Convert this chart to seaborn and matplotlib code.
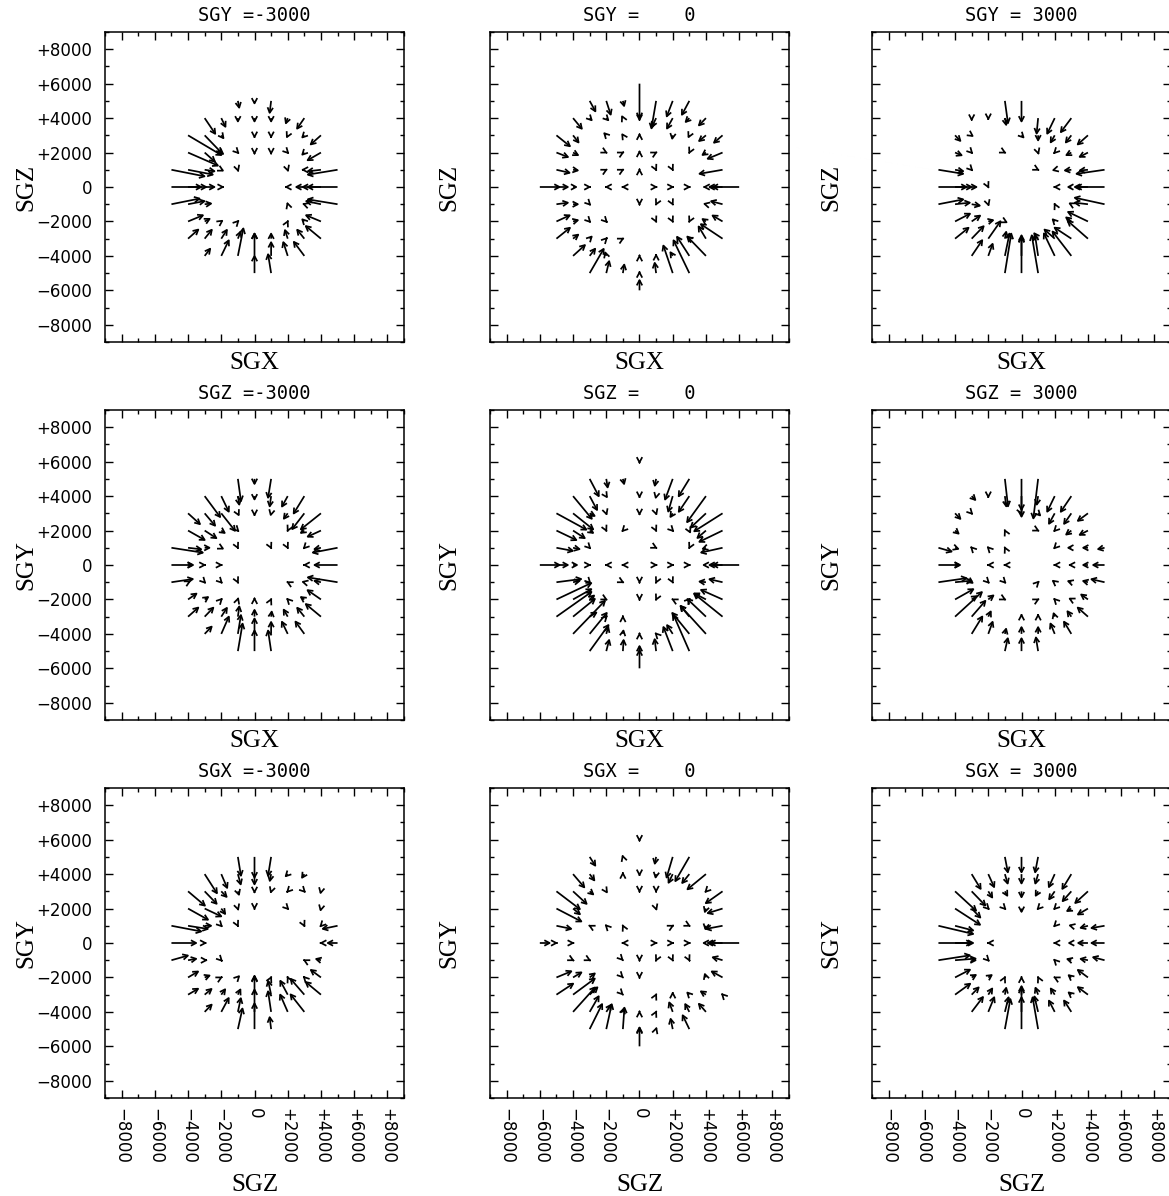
import matplotlib
matplotlib.use("Agg")
import matplotlib.pyplot as plt
from matplotlib.ticker import MultipleLocator, FuncFormatter
import pandas as pd
import seaborn as sns

# Velocity field sampled on a 1000 km/s grid: (x, y, u, v), all in units of 1000 km/s.
# x, y are the grid position of the arrow tail, u, v the vector components.
SGY_M3000 = [
    (-1, 5, 0.1, -0.5), (0, 5, 0, -0.25), (1, 5, -0.1, -0.8),
    (-3, 4, 0.7, -1.0), (-2, 4, 0.3, -0.6), (-1, 4, 0, -0.3), (0, 4, 0, -0.3), (1, 4, 0, -0.3),
    (2, 4, -0.15, -0.4), (3, 4, -0.5, -0.7),
    (-4, 3, 2.1, -1.2), (-3, 3, 1.1, -1.1), (-2, 3, 0.2, -0.25), (0, 3, 0, -0.2), (1, 3, 0, -0.2),
    (2, 3, -0.1, -0.2), (3, 3, -0.2, -0.2), (4, 3, -0.7, -0.6),
    (-4, 2, 1.9, -0.8), (-3, 2, 0.7, -0.6), (-2, 2, 0.2, -0.15), (-1, 2, 0.1, -0.1), (0, 2, 0, -0.15),
    (1, 2, 0, -0.15), (2, 2, 0.1, -0.1), (3, 2, -0.2, -0.2), (4, 2, -0.9, -0.5),
    (-5, 1, 2.1, -0.4), (-4, 1, 1.6, -0.3), (-3, 1, 0.7, -0.1), (-2, 1, 0.2, -0.1), (-1, 1, 0.05, -0.15),
    (2, 1, 0.05, -0.15), (3, 1, -0.2, 0), (4, 1, -0.9, -0.1), (5, 1, -1.9, -0.3),
    (-5, 0, 1.9, 0), (-4, 0, 1.2, 0), (-3, 0, 0.7, 0), (-2, 0, 0.2, 0),
    (2, 0, -0.2, 0), (3, 0, -0.6, 0), (4, 0, -1.2, 0), (5, 0, -1.9, 0),
    (-5, -1, 1.8, 0.35), (-4, -1, 1.1, 0.2), (-3, -1, 0.5, 0.05), (2, -1, -0.05, 0.15),
    (3, -1, -0.15, 0.05), (4, -1, -1.0, 0.2), (5, -1, -1.9, 0.3),
    (-4, -2, 1.0, 0.4), (-3, -2, 0.4, 0.2), (-2, -2, 0.15, 0.1), (-1, -2, 0.1, 0.1),
    (2, -2, 0.05, 0.1), (3, -2, -0.2, 0.2), (4, -2, -1.0, 0.4),
    (-4, -3, 0.7, 0.6), (-3, -3, 0.5, 0.6), (-2, -3, 0.4, 0.6), (-1, -3, 0.2, 0.5), (0, -3, 0, 0.4),
    (1, -3, 0, 0.4), (2, -3, -0.2, 0.6), (3, -3, -0.5, 0.6), (4, -3, -1.0, 0.8),
    (-3, -4, 0.4, 0.5), (-2, -4, 0.5, 1.0), (-1, -4, 0.35, 1.7), (0, -4, 0, 1.4), (1, -4, 0, 0.9),
    (2, -4, -0.3, 0.9), (3, -4, -0.7, 0.9),
    (0, -5, 0, 1.1), (1, -5, -0.2, 1.2),
]

SGY_0 = [
    (0, 6, 0, -2.1),
    (-3, 5, 0.4, -0.7), (-2, 5, 0.3, -0.9), (-1, 5, 0.1, -0.4), (1, 5, -0.3, -1.7), (2, 5, -0.4, -1.0),
    (3, 5, -0.5, -0.9),
    (-4, 4, 0.6, -0.7), (-3, 4, 0.2, -0.2), (-2, 4, 0.2, -0.2), (-1, 4, -0.1, 0.2), (0, 4, 0, -0.2),
    (1, 4, -0.3, -0.6), (2, 4, -0.4, -0.7), (3, 4, -0.3, -0.3), (4, 4, -0.5, -0.5),
    (-5, 3, 0.9, -0.7), (-4, 3, 0.4, -0.5), (-2, 3, -0.2, 0.2), (-1, 3, -0.1, 0.15), (0, 3, 0, 0.15),
    (2, 3, -0.05, -0.3), (3, 3, -0.1, -0.2), (4, 3, -0.5, -0.4), (5, 3, -0.6, -0.5),
    (-5, 2, 0.8, -0.3), (-4, 2, 0.4, -0.2), (-2, 2, 0.1, -0.05), (-1, 2, 0.1, 0.05), (0, 2, 0, 0.15),
    (1, 2, 0.1, 0.05), (3, 2, -0.05, -0.1), (4, 2, -0.3, -0.2), (5, 2, -1.0, -0.4),
    (-5, 1, 0.9, -0.2), (-4, 1, 0.4, -0.05), (-2, 1, 0.1, 0.05), (-1, 1, 0.1, 0.05), (0, 1, 0, 0.1),
    (1, 1, 0.05, -0.1), (2, 1, 0.05, -0.1), (5, 1, -1.5, -0.25),
    (-6, 0, 1.3, 0), (-5, 0, 0.8, 0), (-4, 0, 0.3, 0), (-3, 0, 0.1, 0), (-2, 0, -0.1, 0), (-1, 0, -0.1, 0),
    (1, 0, 0.1, 0), (2, 0, 0.1, 0), (3, 0, 0.1, 0), (4, 0, -0.2, 0), (5, 0, -0.9, 0), (6, 0, -1.7, 0),
    (-5, -1, 0.8, 0.1), (-4, -1, 0.4, 0.0), (-3, -1, 0.1, -0.1), (0, -1, 0, -0.1), (1, -1, -0.05, -0.1),
    (2, -1, 0.05, -0.1), (4, -1, -0.2, 0.05), (5, -1, -0.8, 0.2),
    (-5, -2, 0.9, 0.4), (-4, -2, 0.4, 0.1), (-3, -2, 0.1, -0.1), (-2, -2, 0.1, -0.1), (1, -2, 0.05, -0.1),
    (2, -2, 0.05, -0.1), (3, -2, -0.05, -0.1), (4, -2, -0.3, 0.2), (5, -2, -0.7, 0.4),
    (-5, -3, 0.9, 0.7), (-4, -3, 0.4, 0.3), (-3, -3, 0.2, 0.2), (-2, -3, 0.1, 0.1), (-1, -3, 0.1, 0.05),
    (3, -3, -0.2, 0.1), (4, -3, -0.5, 0.8), (5, -3, -1.4, 0.9),
    (-4, -4, 0.8, 0.7), (-3, -4, 0.4, 0.5), (-2, -4, -0.1, 0.3), (0, -4, 0, 0.1), (1, -4, 0, 0.15),
    (2, -4, -0.2, 0.3), (3, -4, -0.8, 1.2), (4, -4, -1.2, 1.2),
    (-3, -5, 0.9, 1.5), (-2, -5, 0.2, 0.8), (-1, -5, 0.1, 0.6), (0, -5, 0, 0.15), (1, -5, -0.1, 0.7),
    (2, -5, -0.6, 1.7), (3, -5, -1.0, 2.0),
    (0, -6, 0, 0.7),
]

SGY_P3000 = [
    (-1, 5, 0.2, -1.4), (0, 5, 0, -1.3),
    (-3, 4, 0, -0.2), (-2, 4, 0, -0.15), (-1, 4, 0.1, -0.5), (1, 4, -0.1, -1.0), (2, 4, -0.5, -1.0),
    (3, 4, -0.7, -0.9),
    (-4, 3, 0.4, -0.4), (-3, 3, 0.15, -0.1), (0, 3, 0.2, -0.2), (1, 3, 0, -0.4), (2, 3, -0.3, -0.5),
    (3, 3, -0.4, -0.5), (4, 3, -0.7, -0.6),
    (-4, 2, 0.5, -0.2), (-3, 2, 0.1, -0.1), (-1, 2, 0.1, -0.05), (1, 2, 0.05, -0.15), (2, 2, -0.1, -0.1),
    (3, 2, -0.4, -0.2), (4, 2, -0.6, -0.3),
    (-5, 1, 1.6, -0.25), (-4, 1, 0.6, -0.1), (-3, 1, 0.1, -0.1), (1, 1, 0.1, -0.05), (2, 1, -0.2, -0.05),
    (3, 1, -0.5, -0.05), (4, 1, -0.6, -0.05), (5, 1, -1.8, -0.25),
    (-5, 0, 1.8, 0), (-4, 0, 1.1, 0), (-3, 0, 0.4, 0), (-2, 0, 0.05, -0.1),
    (2, 0, -0.1, 0), (3, 0, -0.3, 0), (4, 0, -0.9, 0), (5, 0, -1.8, 0),
    (-5, -1, 1.6, 0.3), (-4, -1, 1.0, 0.1), (-3, -1, 0.6, -0.1), (-2, -1, 0.05, -0.15),
    (2, -1, -0.05, 0.1), (3, -1, -0.2, 0.1), (4, -1, -0.9, 0.1), (5, -1, -1.9, 0.4),
    (-4, -2, 1.0, 0.5), (-3, -2, 0.6, 0.4), (-2, -2, 0.4, 0.1), (-1, -2, 0.2, -0.1),
    (2, -2, -0.2, 0.2), (3, -2, -0.4, 0.3), (4, -2, -1.3, 0.6),
    (-4, -3, 0.9, 0.7), (-3, -3, 0.8, 0.8), (-2, -3, 0.8, 1.1), (-1, -3, 0.1, 0.5), (0, -3, 0, 0.3),
    (1, -3, -0.3, 0.4), (2, -3, -0.7, 0.6), (3, -3, -1.1, 0.7), (4, -3, -1.3, 1.1),
    (-3, -4, 0.7, 1.0), (-2, -4, 0.3, 0.8), (-1, -4, 0.3, 1.4), (0, -4, 0, 1.2), (1, -4, -0.2, 1.3),
    (2, -4, -0.7, 1.4), (3, -4, -1.2, 1.5),
    (-1, -5, 0.4, 2.4), (0, -5, 0, 2.2), (1, -5, -0.4, 2.3),
]

SGZ_M3000 = [
    (-1, 5, 0.2, -1.4), (0, 5, 0, -0.4), (1, 5, -0.2, -1.2),
    (-3, 4, 1.0, -1.3), (-2, 4, 0.5, -1.0), (-1, 4, 0.1, -0.6), (0, 4, 0, -0.3), (1, 4, -0.1, -0.7),
    (2, 4, -0.4, -0.7), (3, 4, -0.7, -1.1),
    (-4, 3, 0.8, -0.7), (-3, 3, 0.7, -0.8), (-2, 3, 0.9, -1.1), (-1, 3, 0.1, -0.2), (0, 3, 0, -0.2),
    (1, 3, -0.05, -0.2), (2, 3, -0.3, -0.4), (3, 3, -0.8, -1.0), (4, 3, -1.3, -1.0),
    (-4, 2, 1.1, -0.6), (-3, 2, 0.8, -0.5), (-2, 2, 0.3, -0.2), (-1, 2, 0.1, -0.1), (2, 2, -0.05, -0.1),
    (3, 2, -0.3, -0.2), (4, 2, -0.9, -0.4),
    (-5, 1, 2.0, -0.3), (-4, 1, 0.9, -0.1), (-3, 1, 0.4, 0), (-2, 1, 0.2, -0.1), (-1, 1, 0.05, -0.1),
    (1, 1, 0.05, -0.1), (2, 1, 0.05, -0.1), (3, 1, -0.1, -0.1), (4, 1, -0.5, -0.1), (5, 1, -1.6, -0.3),
    (-5, 0, 1.4, 0), (-4, 0, 0.4, 0), (-3, 0, 0.1, 0), (-2, 0, 0.1, 0), (3, 0, -0.1, 0), (5, 0, -1.5, 0),
    (-5, -1, 1.4, 0.2), (-4, -1, 0.2, 0.1), (-3, -1, 0.1, -0.1), (-2, -1, 0.1, -0.1), (-1, -1, 0.05, -0.1),
    (2, -1, -0.1, 0.05), (3, -1, -0.2, 0.05), (4, -1, -0.5, 0.1), (5, -1, -1.9, 0.3),
    (-4, -2, 0.6, 0.4), (-3, -2, 0.3, 0.2), (-2, -2, 0.1, 0.1), (-1, -2, 0.05, 0.15), (0, -2, 0, 0.15),
    (1, -2, 0.05, 0.1), (2, -2, -0.1, 0.1), (3, -2, -0.3, 0.2), (4, -2, -0.9, 0.6),
    (-4, -3, 0.7, 0.6), (-3, -3, 0.6, 0.6), (-2, -3, 0.4, 0.6), (-1, -3, 0.1, 0.7), (0, -3, 0, 0.5),
    (1, -3, 0.05, 0.4), (2, -3, -0.3, 0.5), (3, -3, -0.5, 0.6), (4, -3, -1.0, 0.8),
    (-3, -4, 0.5, 0.5), (-2, -4, 0.5, 1.1), (-1, -4, 0.2, 1.2), (0, -4, 0, 1.0), (1, -4, 0, 0.8),
    (2, -4, -0.4, 0.8), (3, -4, -0.6, 0.8),
    (-1, -5, 0.3, 1.7), (0, -5, 0, 1.3), (1, -5, -0.2, 1.3),
]

SGZ_0 = [
    (0, 6, 0, -0.15),
    (-3, 5, 0.6, -1.1), (-2, 5, 0.1, -0.6), (-1, 5, 0.1, -0.4), (1, 5, -0.1, -0.5), (2, 5, -0.5, -1.3),
    (3, 5, -0.7, -1.1),
    (-4, 4, 1.2, -1.4), (-3, 4, 0.5, -0.9), (-2, 4, 0.1, -0.15), (0, 4, 0, -0.15), (1, 4, -0.05, -0.2),
    (2, 4, -0.3, -1.0), (3, 4, -0.7, -1.0), (4, 4, -1.2, -1.6),
    (-5, 3, 1.9, -1.0), (-4, 3, 1.3, -1.0), (-3, 3, 0.4, -0.2), (-2, 3, 0.05, -0.15), (0, 3, 0, -0.15),
    (1, 3, 0.05, -0.15), (2, 3, -0.2, -0.3), (4, 3, -1.0, -0.9), (5, 3, -1.8, -1.1),
    (-5, 2, 1.3, -0.6), (-4, 2, 0.8, -0.5), (-3, 2, 0.3, -0.2), (-2, 2, 0.05, -0.1), (-1, 2, -0.1, -0.1),
    (1, 2, 0.05, -0.1), (2, 2, 0.1, -0.1), (3, 2, 0.1, -0.2), (4, 2, -0.6, -0.5), (5, 2, -1.5, -0.7),
    (-5, 1, 1.1, -0.2), (-4, 1, 0.5, -0.1), (-3, 1, 0.1, -0.1), (1, 1, 0.1, -0.05), (3, 1, -0.05, -0.1),
    (4, 1, -0.3, -0.1), (5, 1, -1.4, -0.3),
    (-6, 0, 1.3, 0), (-5, 0, 0.8, 0), (-4, 0, 0.35, 0), (-3, 0, 0.1, 0), (-2, 0, -0.1, 0), (-1, 0, -0.1, 0),
    (1, 0, 0.1, 0), (2, 0, 0.1, 0), (3, 0, 0.1, 0), (4, 0, -0.25, 0), (5, 0, -0.9, 0), (6, 0, -1.7, 0),
    (-5, -1, 1.6, 0.2), (-4, -1, 0.5, 0.1), (-3, -1, 0.1, -0.1), (-1, -1, 0.1, -0.05), (0, -1, 0, -0.1),
    (1, -1, -0.05, -0.1), (2, -1, 0.05, -0.1), (4, -1, -0.5, 0.05), (5, -1, -0.9, 0.2),
    (-5, -2, 2.2, 1.0), (-4, -2, 1.2, 0.65), (-3, -2, 0.35, 0.3), (-2, -2, 0.1, -0.05), (0, -2, 0, -0.1),
    (1, -2, -0.05, -0.1), (2, -2, -0.1, 0.05), (3, -2, 0.1, 0.1), (4, -2, -0.8, 0.4), (5, -2, -1.4, 0.6),
    (-5, -3, 2.2, 1.5), (-4, -3, 1.4, 1.1), (-3, -3, 0.5, 0.3), (-2, -3, 0.1, 0.1), (-1, -3, 0, 0.1),
    (3, -3, -0.6, 0.7), (4, -3, -1.2, 1.1), (5, -3, -1.8, 1.4),
    (-4, -4, 2.0, 2.0), (-3, -4, 1.1, 1.3), (-2, -4, 0.15, 0.5), (-1, -4, 0.05, 0.3), (0, -4, 0, 0.1),
    (1, -4, -0.1, 0.1), (2, -4, -0.4, 0.6), (3, -4, -1.1, 1.3), (4, -4, -1.6, 1.7),
    (-3, -5, 1.2, 1.6), (-2, -5, 0.2, 0.75), (-1, -5, 0.05, 0.75), (0, -5, 0, 0.15), (1, -5, -0.1, 0.8),
    (2, -5, -0.6, 1.5), (3, -5, -1.0, 2.2),
    (0, -6, 0, 1.4),
]

SGZ_P3000 = [
    (-1, 5, 0.2, -1.7), (0, 5, 0, -2.3), (1, 5, -0.3, -2.4),
    (-3, 4, 0.3, -0.3), (-2, 4, 0, -0.15), (-1, 4, 0.1, -0.7), (0, 4, 0, -0.9), (1, 4, -0.1, -0.6),
    (2, 4, -0.5, -1.0), (3, 4, -0.7, -1.0),
    (-4, 3, 0.4, -0.4), (-3, 3, 0.1, -0.1), (0, 3, 0.05, -0.1), (1, 3, 0.2, -0.2), (2, 3, -0.4, -0.7),
    (3, 3, -0.5, -0.7), (4, 3, -0.7, -0.5),
    (-4, 2, 0.3, -0.25), (-1, 2, -0.05, 0.1), (1, 2, 0.1, -0.05), (2, 2, -0.1, -0.1), (3, 2, -0.4, -0.3),
    (4, 2, -0.6, -0.3),
    (-5, 1, 0.9, -0.25), (-4, 1, 0.3, -0.1), (-3, 1, -0.1, 0.1), (-2, 1, -0.1, 0.1), (-1, 1, -0.05, 0.1),
    (2, 1, -0.1, -0.1), (3, 1, -0.3, 0), (4, 1, -0.4, 0), (5, 1, -0.5, -0.1),
    (-5, 0, 1.4, 0), (-4, 0, 0.4, 0), (-2, 0, -0.1, 0), (-1, 0, -0.1, 0),
    (2, 0, -0.1, 0), (3, 0, -0.2, 0), (4, 0, -0.4, 0), (5, 0, -0.8, 0),
    (-5, -1, 1.8, 0.25), (-4, -1, 1.1, 0.1), (-3, -1, 0.15, -0.1), (-2, -1, 0.1, -0.1), (-1, -1, 0.1, -0.1),
    (1, -1, 0.1, 0.1), (2, -1, -0.2, 0.15), (3, -1, -0.3, 0.1), (4, -1, -0.4, 0.1), (5, -1, -0.9, 0.2),
    (-4, -2, 1.2, 0.65), (-3, -2, 0.4, 0.25), (-2, -2, 0.4, 0.3), (-1, -2, 0.1, -0.05), (1, -2, 0.1, 0.05),
    (2, -2, -0.1, 0.1), (3, -2, -0.2, 0.1), (4, -2, -0.5, 0.35),
    (-4, -3, 1.7, 1.5), (-3, -3, 0.9, 1.0), (-2, -3, 0.2, 0.4), (0, -3, 0, 0.2), (1, -3, 0, 0.2),
    (2, -3, -0.1, 0.3), (3, -3, -0.3, 0.4), (4, -3, -0.7, 0.6),
    (-3, -4, 0.7, 1.1), (-2, -4, 0.3, 0.8), (-1, -4, 0.1, 0.4), (0, -4, 0, 0.5), (1, -4, 0, 0.5),
    (2, -4, -0.3, 0.7), (3, -4, -0.5, 0.8),
    (-1, -5, 0.2, 0.85), (0, -5, 0, 0.85), (1, -5, -0.15, 0.9),
]

SGX_M3000 = [
    (-1, 5, 0.2, -1.2), (0, 5, 0, -1.3), (1, 5, -0.2, -1.2),
    (-3, 4, 0.8, -1.2), (-2, 4, 0.4, -0.9), (-1, 4, 0.2, -0.7), (0, 4, 0, -0.7), (1, 4, -0.1, -0.5),
    (2, 4, -0.2, -0.2), (3, 4, -0.2, -0.3),
    (-4, 3, 1.1, -0.9), (-3, 3, 0.8, -0.8), (-2, 3, 0.4, -0.4), (-1, 3, 0.1, -0.3), (0, 3, 0, -0.15),
    (1, 3, -0.05, -0.15), (2, 3, -0.1, -0.1), (3, 3, 0.1, -0.1), (4, 3, -0.05, -0.2),
    (-4, 2, 1.3, -0.7), (-3, 2, 1.1, -0.5), (-2, 2, 0.3, -0.4), (-1, 2, 0.05, -0.15), (0, 2, 0, -0.1),
    (2, 2, 0.1, -0.1), (4, 2, -0.05, -0.2),
    (-5, 1, 1.9, -0.35), (-4, 1, 1.3, -0.2), (-3, 1, 0.5, 0), (-2, 1, 0.1, -0.1), (-1, 1, 0.05, -0.1),
    (3, 1, 0.05, -0.1), (4, 1, -0.1, -0.1), (5, 1, -1.0, -0.2),
    (-5, 0, 1.6, 0), (-3, 0, 0.15, 0), (4, 0, -0.1, 0), (5, 0, -0.7, 0),
    (-5, -1, 1.1, 0.3), (-4, -1, 0.6, 0.1), (-3, -1, 0.2, 0), (-2, -1, 0.1, -0.1), (3, -1, -0.1, 0.05),
    (4, -1, -0.4, 0.1),
    (-4, -2, 0.7, 0.4), (-3, -2, 0.4, 0.15), (-2, -2, 0.1, 0.05), (-1, -2, 0.15, 0.15), (0, -2, 0, 0.15),
    (1, -2, 0.05, 0.1), (2, -2, -0.05, 0.1), (3, -2, -0.1, 0.1), (4, -2, -0.7, 0.5),
    (-4, -3, 0.7, 0.4), (-3, -3, 0.5, 0.4), (-2, -3, 0.3, 0.4), (-1, -3, 0.2, 0.4), (0, -3, 0, 1.2),
    (1, -3, -0.2, 0.9), (2, -3, -0.5, 0.9), (3, -3, -0.9, 1.0), (4, -3, -1.0, 0.8),
    (-3, -4, 0.5, 0.5), (-2, -4, 0.5, 0.9), (-1, -4, 0.2, 0.9), (0, -4, 0, 1.4), (1, -4, -0.2, 1.3),
    (2, -4, -0.5, 1.1), (3, -4, -0.9, 1.1),
    (-1, -5, 0.3, 1.3), (0, -5, 0, 1.6), (1, -5, -0.1, 0.8),
]

SGX_0 = [
    (0, 6, 0, -0.15),
    (-3, 5, 0.4, -0.6), (-1, 5, -0.05, 0.15), (1, 5, -0.1, -0.5), (2, 5, -0.4, -1.3), (3, 5, -0.9, -1.5),
    (-4, 4, 0.75, -0.85), (-3, 4, 0.35, -0.45), (-1, 4, 0, 0.15), (0, 4, 0, -0.15), (1, 4, -0.05, -0.3),
    (2, 4, -0.3, -0.6), (3, 4, -0.5, -0.6), (4, 4, -1.2, -0.95),
    (-5, 3, 1.5, -1.1), (-4, 3, 0.9, -0.8), (-3, 3, 0.3, -0.25), (-2, 3, 0.1, -0.15), (0, 3, 0, -0.1),
    (1, 3, 0, -0.1), (4, 3, -0.1, -0.1), (5, 3, -1.1, -0.75),
    (-5, 2, 1.6, -0.8), (-4, 2, 0.5, -0.4), (1, 2, 0.05, -0.15), (4, 2, -0.1, -0.3), (5, 2, -1.0, -0.3),
    (-5, 1, 1.0, -0.2), (-3, 1, -0.1, 0.05), (-2, 1, -0.1, 0.1), (-1, 1, -0.05, 0.1), (2, 1, 0.1, 0.05),
    (3, 1, 0.1, -0.05), (4, 1, -0.05, -0.3), (5, 1, -1.1, -0.2),
    (-6, 0, 0.7, 0), (-5, 0, 0.1, 0), (-4, 0, 0.1, 0), (-1, 0, -0.1, 0), (1, 0, 0.1, 0), (2, 0, 0.1, 0),
    (3, 0, 0.1, 0), (4, 0, -0.25, 0), (5, 0, -1.0, 0), (6, 0, -1.85, 0),
    (-4, -1, 0.1, -0.05), (-3, -1, 0.1, -0.05), (-1, -1, 0.05, -0.05), (0, -1, 0, -0.1),
    (1, -1, -0.05, -0.1), (2, -1, 0.05, -0.1), (3, -1, 0.05, -0.1), (5, -1, -0.7, 0.2),
    (-5, -2, 1.0, 0.4), (-4, -2, 0.6, 0.35), (-3, -2, 0.4, 0.3), (-1, -2, 0.05, -0.05), (0, -2, 0, -0.1),
    (4, -2, -0.1, 0.3), (5, -2, -0.75, 0.4),
    (-5, -3, 1.1, 0.7), (-4, -3, 1.4, 1.0), (-3, -3, 0.55, 0.5), (-1, -3, 0.05, -0.05), (1, -3, 0.05, 0.1),
    (2, -3, 0, 0.2), (3, -3, -0.2, 0.2), (4, -3, -0.4, 0.25), (5, -3, -0.1, 0.1),
    (-4, -4, 1.4, 1.5), (-3, -4, 0.6, 1.0), (-2, -4, 0.35, 0.5), (-1, -4, 0.1, 0.3), (0, -4, 0, 0.1),
    (1, -4, 0.05, 0.1), (2, -4, -0.25, 0.65), (3, -4, -0.3, 0.55), (4, -4, -0.5, 0.55),
    (-3, -5, 0.8, 1.55), (-2, -5, 0.35, 1.55), (-1, -5, 0.1, 1.35), (0, -5, 0, 0.15), (1, -5, 0.05, 0.15),
    (2, -5, -0.15, 0.7), (3, -5, -0.45, 0.9),
    (0, -6, 0, 1.2),
]

SGX_P3000 = [
    (-1, 5, 0.2, -1.0), (0, 5, 0, -1.0), (1, 5, -0.2, -1.0),
    (-3, 4, 0.6, -0.95), (-2, 4, 0.4, -0.85), (-1, 4, 0.2, -0.65), (0, 4, 0, -0.65), (1, 4, -0.2, -0.65),
    (2, 4, -0.4, -0.85), (3, 4, -0.6, -0.95),
    (-4, 3, 1.35, -1.2), (-3, 3, 0.9, -0.9), (-2, 3, 0.3, -0.45), (-1, 3, 0.2, -0.35), (0, 3, 0, -0.45),
    (1, 3, -0.2, -0.35), (2, 3, -0.4, -0.55), (3, 3, -0.6, -0.65), (4, 3, -0.85, -0.75),
    (-4, 2, 1.6, -1.0), (-3, 2, 0.6, -0.6), (-2, 2, 0.1, -0.1), (-1, 2, 0.1, -0.1), (0, 2, 0, -0.3),
    (1, 2, -0.1, -0.1), (2, 2, -0.1, -0.1), (3, 2, -0.35, -0.2), (4, 2, -0.7, -0.4),
    (-5, 1, 2.2, -0.5), (-4, 1, 1.2, -0.3), (2, 1, -0.1, -0.1), (3, 1, -0.2, 0.05), (4, 1, -0.55, -0.15),
    (5, 1, -0.9, -0.15),
    (-5, 0, 2.1, 0), (-4, 0, 1.2, 0), (-2, 0, -0.1, 0), (2, 0, -0.1, 0), (3, 0, -0.25, 0),
    (4, 0, -0.7, 0), (5, 0, -0.9, 0),
    (-5, -1, 2.0, 0.3), (-4, -1, 1.35, 0.1), (-3, -1, 0.35, 0), (-2, -1, 0.1, -0.1), (2, -1, -0.1, 0.1),
    (3, -1, -0.35, 0.1), (4, -1, -0.55, 0.1), (5, -1, -0.8, 0.2),
    (-4, -2, 1.0, 0.5), (-3, -2, 0.35, 0.2), (-2, -2, 0.3, 0.2), (-1, -2, 0.05, 0.1), (0, -2, 0, 0.1),
    (1, -2, -0.05, 0.1), (2, -2, -0.1, 0.05), (3, -2, -0.25, 0.2), (4, -2, -0.7, 0.5),
    (-4, -3, 1.0, 0.7), (-3, -3, 0.5, 0.5), (-2, -3, 0.3, 0.45), (-1, -3, 0.1, 0.5), (0, -3, 0, 0.6),
    (1, -3, -0.2, 0.5), (2, -3, -0.3, 0.45), (3, -3, -0.25, 0.2), (4, -3, -0.7, 0.5),
    (-3, -4, 0.75, 0.95), (-2, -4, 0.4, 0.95), (-1, -4, 0.25, 0.95), (0, -4, 0, 0.95), (1, -4, -0.25, 1.0),
    (2, -4, -0.4, 0.75), (3, -4, -0.5, 0.75),
    (-1, -5, 0.35, 1.85), (0, -5, 0, 2.5), (1, -5, -0.35, 1.95),
]

PANEL_TITLES = ["SGY =-3000", "SGY =    0", "SGY = 3000",
                "SGZ =-3000", "SGZ =    0", "SGZ = 3000",
                "SGX =-3000", "SGX =    0", "SGX = 3000"]
PANEL_ARROWS = [SGY_M3000, SGY_0, SGY_P3000,
                SGZ_M3000, SGZ_0, SGZ_P3000,
                SGX_M3000, SGX_0, SGX_P3000]
X_LABELS = ["SGX", "SGX", "SGX", "SGX", "SGX", "SGX", "SGZ", "SGZ", "SGZ"]
Y_LABELS = ["SGZ", "SGZ", "SGZ", "SGY", "SGY", "SGY", "SGY", "SGY", "SGY"]

KMS = 1000.0  # grid unit in km/s

records = []
for title, arrows in zip(PANEL_TITLES, PANEL_ARROWS):
    for x, y, u, v in arrows:
        records.append({"panel": title, "x": x * KMS, "y": y * KMS,
                        "u": u * KMS, "v": v * KMS})
field = pd.DataFrame(records)

sns.set_style("ticks", {"xtick.direction": "in", "ytick.direction": "in",
                        "axes.edgecolor": "black", "axes.linewidth": 1.1})
plt.rcParams["font.family"] = ["DejaVu Sans"]


def draw_arrows(data, **kwargs):
    ax = plt.gca()
    for row in data.itertuples():
        ax.annotate("", xy=(row.x + row.u, row.y + row.v), xytext=(row.x, row.y),
                    xycoords="data", textcoords="data",
                    arrowprops=dict(arrowstyle="->,head_length=0.42,head_width=0.22",
                                    lw=1.25, color="black", shrinkA=0, shrinkB=0,
                                    mutation_scale=9, capstyle="butt"))


g = sns.FacetGrid(field, col="panel", col_wrap=3, col_order=PANEL_TITLES,
                  sharex=True, sharey=True, despine=False, height=3.5, aspect=1)
g.map_dataframe(draw_arrows)

fig = g.figure
W, H = 1169, 1196
fig.set_size_inches(W / 100, H / 100)

col_left = [105, 490, 872]
row_top = [32, 410, 788]
box_w, box_h = 299, 310


def tick_text(val, pos):
    if abs(val) < 1:
        return "0"
    return f"+{val:.0f}" if val > 0 else f"\u2212{-val:.0f}"


for i, ax in enumerate(g.axes.flat):
    r, c = divmod(i, 3)
    ax.set_position([col_left[c] / W, 1 - (row_top[r] + box_h) / H, box_w / W, box_h / H])
    ax.set_xlim(-9000, 9000)
    ax.set_ylim(-9000, 9000)
    ax.xaxis.set_major_locator(MultipleLocator(2000))
    ax.xaxis.set_minor_locator(MultipleLocator(1000))
    ax.yaxis.set_major_locator(MultipleLocator(2000))
    ax.yaxis.set_minor_locator(MultipleLocator(1000))
    ax.xaxis.set_major_formatter(FuncFormatter(tick_text))
    ax.yaxis.set_major_formatter(FuncFormatter(tick_text))
    ax.tick_params(which="both", direction="in", top=True, right=True,
                   bottom=True, left=True, color="black", width=1.0)
    ax.tick_params(which="major", length=6)
    ax.tick_params(which="minor", length=3)
    ax.tick_params(axis="y", labelleft=(c == 0), labelright=False, pad=9,
                   labelsize=12, labelcolor="black")
    ax.tick_params(axis="x", labelbottom=(r == 2), labeltop=False, pad=7,
                   labelsize=12, labelcolor="black", labelrotation=-90 if r == 2 else 0)
    for sp in ax.spines.values():
        sp.set_visible(True)
        sp.set_linewidth(1.1)
        sp.set_color("black")
    ax.set_title(PANEL_TITLES[i], family="DejaVu Sans Mono", fontsize=13.5, pad=8,
                 color="black")
    ax.set_xlabel(X_LABELS[i], family="Liberation Serif", fontsize=18, color="black")
    ax.set_ylabel(Y_LABELS[i], family="Liberation Serif", fontsize=18, color="black")
    ax.xaxis.label.set_visible(True)
    ax.yaxis.label.set_visible(True)
    ax.xaxis.set_label_coords(0.5, -0.245 if r == 2 else -0.032)
    ax.yaxis.set_label_coords(-0.225 if c == 0 else -0.098, 0.5)
    ax.set_facecolor("white")

fig.savefig("out.png", dpi=100, facecolor="white")
